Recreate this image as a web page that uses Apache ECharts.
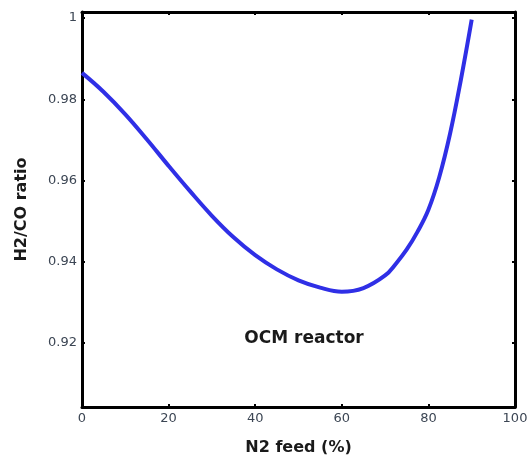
<!DOCTYPE html>
<html>
<head>
<meta charset="utf-8">
<script src="https://cdn.jsdelivr.net/npm/echarts@6/dist/echarts.min.js"></script>
<style>html,body{margin:0;padding:0;background:#fff}#c{width:527px;height:466px}</style>
</head>
<body>
<div id="c"></div>
<script>
const n2Feed = [0, 5, 10, 15, 20, 25, 30, 35, 40, 45, 50, 55, 60, 65, 70, 72.5, 75, 77.5, 80, 82.5, 85, 87.5, 90];
const h2coRatio = [0.9865, 0.9818, 0.9763, 0.9701, 0.9636, 0.9573, 0.9513, 0.9460, 0.9416, 0.9381, 0.9354, 0.9336, 0.9326, 0.9335, 0.9366, 0.9395, 0.9430, 0.9474, 0.9528, 0.9608, 0.9715, 0.9848, 0.9996];
const xTicks = [0, 20, 40, 60, 80, 100];
const yTicks = [0.92, 0.94, 0.96, 0.98, 1.0];

const chart = echarts.init(document.getElementById('c'), null, {renderer: 'canvas'});
const lineStyleAxis = {color: '#000', width: 3};
const fontFam = 'DejaVu Sans, sans-serif';
const tickStyle = {color: '#000', width: 2};
chart.setOption({
  animation: false,
  backgroundColor: '#fff',
  grid: {left: 82, right: 12, top: 12, bottom: 59, containLabel: false, outerBoundsMode: 'none'},
  xAxis: [{
    type: 'value', min: 0, max: 100, position: 'bottom',
    name: 'N2 feed (%)', nameLocation: 'middle', nameGap: 33,
    nameTextStyle: {fontFamily: fontFam, fontWeight: 'bold', fontSize: 16, color: '#1a1a1a'},
    axisLine: {show: true, onZero: false, lineStyle: lineStyleAxis},
    axisTick: {show: true, inside: true, length: 3, lineStyle: tickStyle, customValues: xTicks},
    axisLabel: {customValues: xTicks, fontFamily: fontFam, fontSize: 13, color: '#3c4654', margin: 5},
    splitLine: {show: false}
  }, {
    type: 'value', min: 0, max: 100, position: 'top',
    axisLine: {show: true, onZero: false, lineStyle: lineStyleAxis},
    axisTick: {show: true, inside: true, length: 3, lineStyle: tickStyle, customValues: xTicks},
    axisLabel: {show: false},
    splitLine: {show: false}
  }],
  yAxis: [{
    type: 'value', min: 0.9042, max: 1.0015, position: 'left',
    name: 'H2/CO ratio', nameLocation: 'middle', nameGap: 52, nameRotate: 90,
    nameTextStyle: {fontFamily: fontFam, fontWeight: 'bold', fontSize: 16, color: '#1a1a1a'},
    axisLine: {show: true, onZero: false, lineStyle: lineStyleAxis},
    axisTick: {show: true, inside: true, length: 3, lineStyle: tickStyle, customValues: yTicks},
    axisLabel: {customValues: yTicks, fontFamily: fontFam, fontSize: 13, color: '#3c4654', margin: 5,
      formatter: v => (Math.abs(v - 1) < 1e-9 ? '1' : v.toFixed(2))},
    splitLine: {show: false}
  }, {
    type: 'value', min: 0.9042, max: 1.0015, position: 'right',
    axisLine: {show: true, onZero: false, lineStyle: lineStyleAxis},
    axisTick: {show: true, inside: true, length: 3, lineStyle: tickStyle, customValues: yTicks},
    axisLabel: {show: false},
    splitLine: {show: false}
  }],
  graphic: [{
    type: 'text', x: 304, y: 339,
    style: {text: 'OCM reactor', fill: '#1a1a1a', fontFamily: fontFam, fontWeight: 'bold', fontSize: 17, align: 'center', verticalAlign: 'middle'}
  }],
  series: [{
    type: 'line',
    data: n2Feed.map((x, i) => [x, h2coRatio[i]]),
    smooth: 0.4,
    showSymbol: false,
    lineStyle: {color: '#2f2fe6', width: 4},
    z: 3
  }]
});
</script>
</body>
</html>
